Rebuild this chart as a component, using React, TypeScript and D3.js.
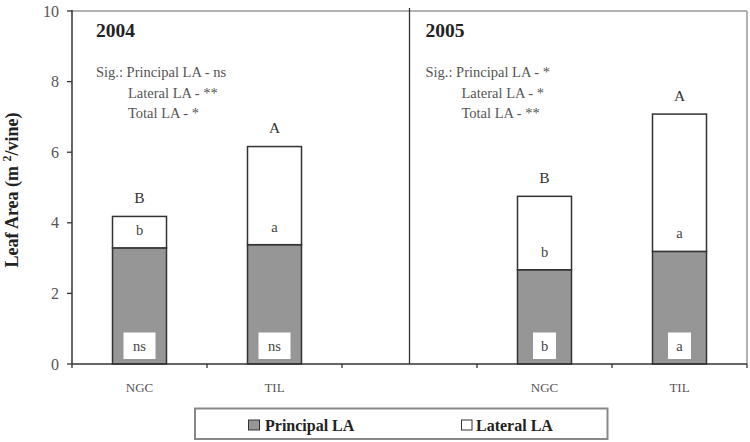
import React from "react";
import * as d3 from "d3";

// Slots along the x axis: two treatments per year with an empty gap between years
const slots = ["2004-NGC", "2004-TIL", "gap", "2005-NGC", "2005-TIL"];
const slotLabels = ["NGC", "TIL", "", "NGC", "TIL"];
const barSlots = ["2004-NGC", "2004-TIL", "2005-NGC", "2005-TIL"];

// Leaf area (m2/vine)
const principalLA = [3.29, 3.38, 2.67, 3.19];
const lateralLA = [0.89, 2.78, 2.08, 3.89];

// Mean separation letters
const totalLetters = ["B", "A", "B", "A"];
const lateralLetters = ["b", "a", "b", "a"];
const principalLetters = ["ns", "ns", "b", "a"];

const yTicks = [0, 2, 4, 6, 8, 10];

const years = ["2004", "2005"];
const sigLines = [
  ["Sig.: Principal LA - ns", "Lateral LA - **", "Total LA - *"],
  ["Sig.: Principal LA - *", "Lateral LA - *", "Total LA - **"],
];

const W = 750;
const H = 442;
const left = 72;
const right = 747;
const top = 11;
const bottom = 364;
const serif = "Liberation Serif, Times New Roman, serif";

export default function App() {
  const x = d3
    .scaleBand<string>()
    .domain(slots)
    .range([left, right])
    .paddingInner(0.6)
    .paddingOuter(0.3);
  const y = d3.scaleLinear().domain([0, 10]).range([bottom, top]);
  const step = x.step();
  const bw = x.bandwidth();
  const boundaries = d3.range(slots.length + 1).map((i) => left + i * step);
  const dividerX = (x("gap") as number) + bw / 2;

  return (
    <svg
      width={W}
      height={H}
      style={{ position: "absolute", left: 0, top: 0, background: "#fff", fontFamily: serif }}
    >
      {/* plot frame */}
      <line x1={left} x2={right} y1={top} y2={top} stroke="#9a9a9a" strokeWidth={1.5} />
      <line x1={right} x2={right} y1={top} y2={bottom} stroke="#9a9a9a" strokeWidth={1.5} />

      {/* year divider */}
      <line x1={dividerX} x2={dividerX} y1={8} y2={bottom} stroke="#333" strokeWidth={1.3} />

      {/* bars */}
      {barSlots.map((s, i) => {
        const x0 = x(s)!;
        const p = principalLA[i];
        const t = p + lateralLA[i];
        const cx = x0 + bw / 2;
        const boxW = principalLetters[i].length > 1 ? 32 : 23;
        return (
          <g key={s}>
            <rect x={x0} y={y(p)} width={bw} height={y(0) - y(p)} fill="#969696" stroke="#333" strokeWidth={1.5} />
            <rect x={x0} y={y(t)} width={bw} height={y(p) - y(t)} fill="#fff" stroke="#333" strokeWidth={1.5} />
            <rect x={cx - boxW / 2} y={bottom - 31.5} width={boxW} height={26.5} fill="#fff" />
            <text x={cx} y={bottom - 18} textAnchor="middle" dominantBaseline="central" fontSize={14.5} fill="#444">
              {principalLetters[i]}
            </text>
            <text x={cx} y={y(p) - 18} textAnchor="middle" dominantBaseline="central" fontSize={14.5} fill="#444">
              {lateralLetters[i]}
            </text>
            <text x={cx} y={y(t) - 19} textAnchor="middle" dominantBaseline="central" fontSize={15.5} fill="#333">
              {totalLetters[i]}
            </text>
          </g>
        );
      })}

      {/* y axis */}
      <line x1={left} x2={left} y1={top - 1} y2={bottom} stroke="#333" strokeWidth={1.5} />
      {yTicks.map((v) => (
        <g key={v}>
          <line x1={left - 5} x2={left} y1={y(v)} y2={y(v)} stroke="#333" strokeWidth={1.3} />
          <text x={left - 13} y={y(v)} textAnchor="end" dominantBaseline="central" fontSize={16} fill="#555">
            {v}
          </text>
        </g>
      ))}

      {/* x axis */}
      <line x1={left} x2={right} y1={bottom} y2={bottom} stroke="#333" strokeWidth={1.5} />
      {boundaries.map((bx, i) => (
        <line key={i} x1={bx} x2={bx} y1={bottom} y2={bottom + 4} stroke="#333" strokeWidth={1.3} />
      ))}
      {slots.map((s, i) => (
        <text key={s} x={x(s)! + bw / 2} y={387} textAnchor="middle" dominantBaseline="central" fontSize={13} fill="#555">
          {slotLabels[i]}
        </text>
      ))}

      {/* year headings and significance notes */}
      {years.map((yr, k) => {
        const tx = k === 0 ? 96 : dividerX + 16;
        return (
          <g key={yr}>
            <text x={tx} y={30} dominantBaseline="central" fontSize={19.5} fontWeight="bold" fill="#222">
              {yr}
            </text>
            {sigLines[k].map((ln, j) => (
              <text
                key={j}
                x={j === 0 ? tx : tx + (k === 0 ? 32 : 36)}
                y={72 + j * 20.5}
                dominantBaseline="central"
                fontSize={14.5}
                fill="#555"
              >
                {ln}
              </text>
            ))}
          </g>
        );
      })}

      {/* y axis title */}
      <text transform={`translate(18,190) rotate(-90)`} textAnchor="middle" fontSize={18} fontWeight="bold" fill="#222">
        Leaf Area (m <tspan fontSize={12} dy={-7}>2</tspan>
        <tspan dy={7}>/vine)</tspan>
      </text>

      {/* legend */}
      <rect x={195} y={408.5} width={412.5} height={30.5} fill="#fff" stroke="#888" strokeWidth={2} />
      <rect x={248.5} y={420} width={11} height={10} fill="#969696" stroke="#333" strokeWidth={1} />
      <text x={265} y={425.5} dominantBaseline="central" fontSize={16} fontWeight="bold" fill="#222">
        Principal LA
      </text>
      <rect x={461.5} y={420} width={10.5} height={10} fill="#fff" stroke="#333" strokeWidth={1} />
      <text x={476} y={425.5} dominantBaseline="central" fontSize={16} fontWeight="bold" fill="#222">
        Lateral LA
      </text>
    </svg>
  );
}
